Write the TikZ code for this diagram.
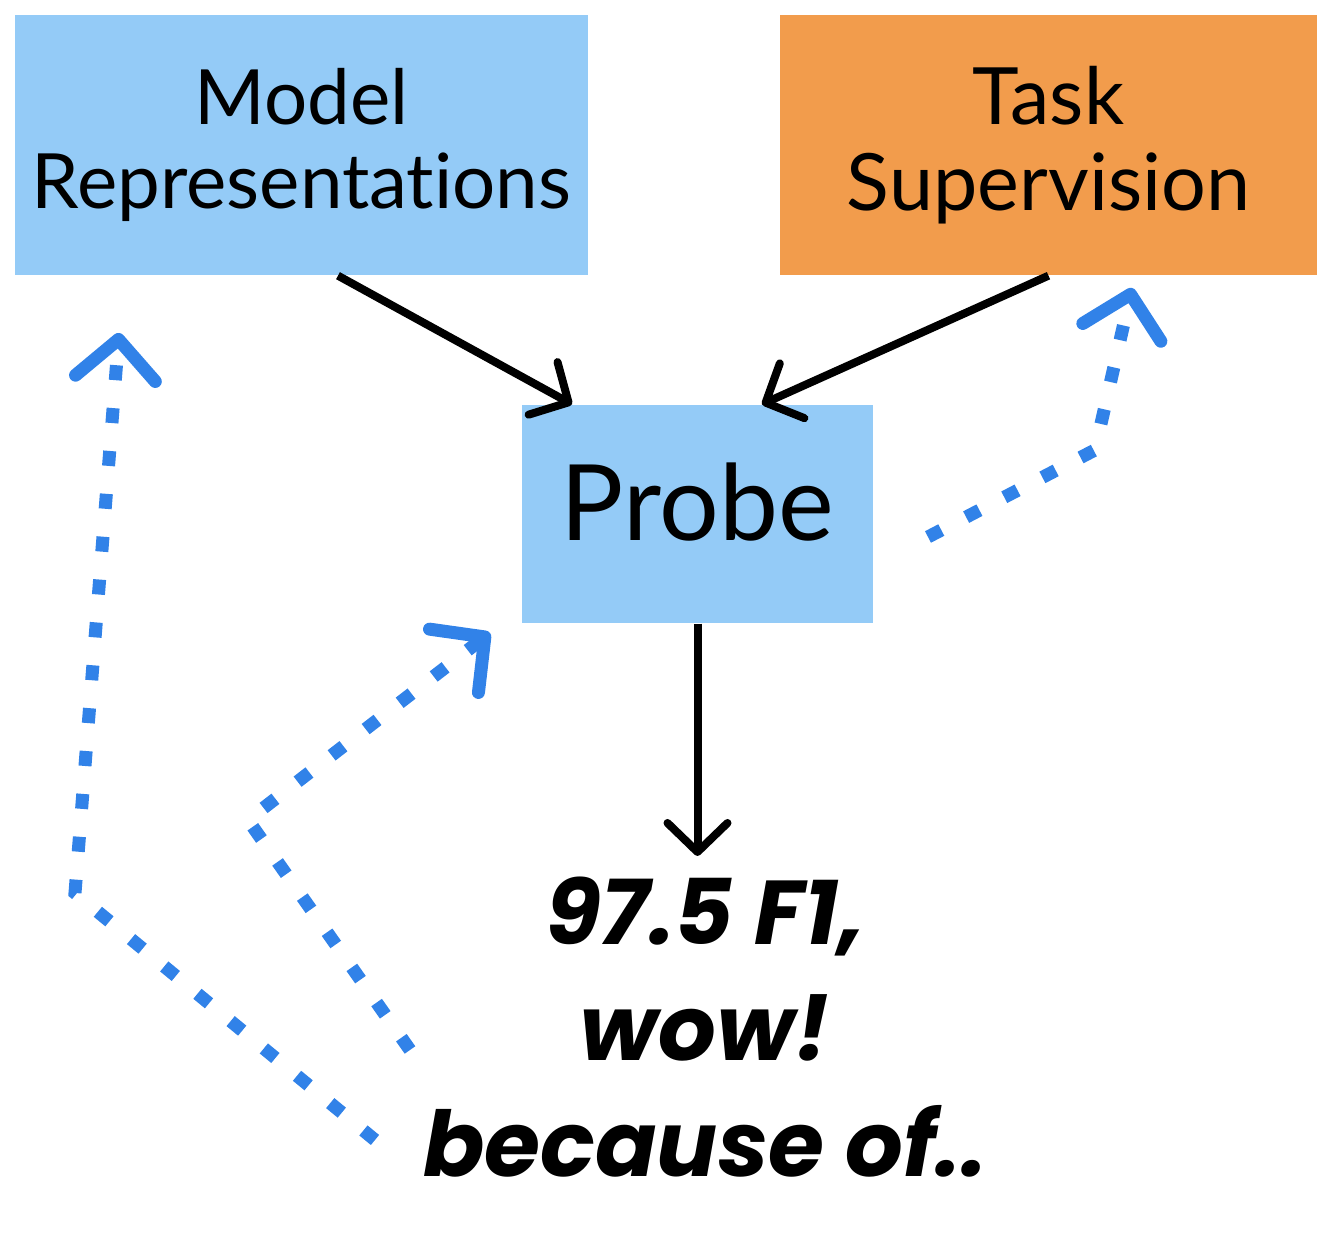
\documentclass[tikz,border=0pt]{standalone}
\usepackage{fontspec}
\setmainfont{Lato}[Ligatures=NoCommon]
\newfontfamily\scorefont{Poppins}
\usetikzlibrary{arrows.meta}
\definecolor{boxblue}{HTML}{94CBF7}
\definecolor{boxorange}{HTML}{F29C4C}
\definecolor{hintblue}{HTML}{3182E8}

\begin{document}
\begin{tikzpicture}
    \useasboundingbox (0,0) rectangle (13.38,12.33);
    \begin{scope}[
        every node/.style={shape=rectangle,align=center,inner sep=0pt}
    ]
        \node[fill=boxblue,minimum width=5.73cm,minimum height=2.6cm,
              font=\fontsize{21.7}{24}\selectfont] (model) at (3.015,10.88) {Model\\Representations};
        \node[fill=boxorange,minimum width=5.37cm,minimum height=2.6cm,
              font=\fontsize{22.5}{24.6}\selectfont] (task) at (10.485,10.88) {Task\\Supervision};
        \node[fill=boxblue,minimum width=3.51cm,minimum height=2.18cm,text depth=0.24cm,
              font=\fontsize{30}{33}\selectfont] (probe) at (6.975,7.19) {Probe};
        \node[anchor=north,font=\fontsize{25.8}{33}\scorefont\bfseries\itshape] (score) at (7.05,3.57) {97.5 F1,\\wow!\\because of..};

        % free ends of the dotted hints
        \coordinate (hintA) at (3.75,0.93);
        \coordinate (bendA) at (0.75,3.40);
        \coordinate (tipA) at (1.19,9.00);
        \coordinate (hintB) at (4.10,1.83);
        \coordinate (bendB) at (2.48,4.13);
        \coordinate (tipB) at (4.90,6.00);
        \coordinate (hintC) at (9.28,6.96);
        \coordinate (bendC) at (10.95,7.83);
        \coordinate (tipC) at (11.32,9.45);
    \end{scope}
    \begin{scope}[
        every edge/.style={draw=black,line width=0.08cm,
            -{Straight Barb[length=0.29cm,width=0.6cm,line cap=round,line join=round]}}
    ]
        \path ([xshift=0.365cm]model.south) edge ([xshift=-1.255cm]probe.north);
        \path (task.south) edge ([xshift=0.645cm]probe.north);
        \path (probe.south) edge ([yshift=0.2cm]score.north -| probe.south);
    \end{scope}
    \begin{scope}[
        hint/.style={draw=hintblue,line width=0.13cm,dash pattern=on 0.15cm off 0.28cm,
            -{Straight Barb[length=0.39cm,width=0.8cm,line cap=round,line join=round]}}
    ]
        \draw[hint] (hintA) -- (bendA) -- (tipA);
        \draw[hint] (hintB) -- (bendB) -- (tipB);
        \draw[hint] (hintC) -- (bendC) -- (tipC);
    \end{scope}
\end{tikzpicture}
\end{document}
